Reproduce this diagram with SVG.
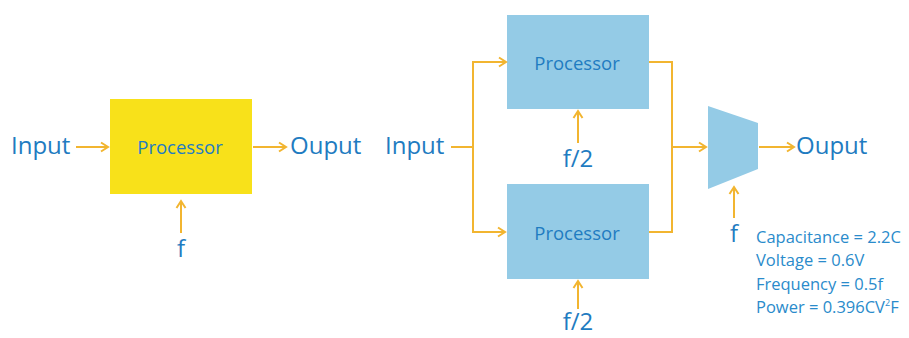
<svg xmlns="http://www.w3.org/2000/svg" width="909" height="338" viewBox="0 0 909 338">
  <style>
    .lbl { font-family: "Open Sans", "Noto Sans", sans-serif; fill: #1f7cc1; }
    .big { font-size: 24px; }
    .proc { font-size: 18.5px; text-anchor: middle; }
    .note { font-family: "Open Sans", "Noto Sans", sans-serif; font-size: 16.5px; fill: #2a8bcb; }
    .wire { fill: none; stroke: #f2b530; stroke-width: 2; }
    .arr { marker-end: url(#chev); }
    .yellow { fill: #f8e11a; }
    .blue { fill: #94cbe6; }
  </style>
  <defs>
    <marker id="chev" markerUnits="userSpaceOnUse" markerWidth="12" markerHeight="12" viewBox="0 0 12 12" refX="10" refY="6" orient="auto">
      <path d="M3,1.5 L10,6 L3,10.5" fill="none" stroke="#f2b530" stroke-width="2"/>
    </marker>
  </defs>

  <rect width="909" height="338" fill="#ffffff"/>

  <!-- single-processor system -->
  <g id="in-left"><text class="lbl big" x="11" y="154">Input</text></g>
  <g id="proc-single">
    <rect class="yellow" x="110" y="99" width="142" height="95"/>
    <text class="lbl proc" x="180" y="154">Processor</text>
  </g>
  <g id="out-left"><text class="lbl big" x="290" y="154">Ouput</text></g>
  <g id="f-left"><text class="lbl big" x="181" y="257" text-anchor="middle">f</text></g>

  <!-- dual-processor system -->
  <g id="in-right"><text class="lbl big" x="385" y="154">Input</text></g>
  <g id="proc-top">
    <rect class="blue" x="507" y="15" width="142" height="94"/>
    <text class="lbl proc" x="577" y="70">Processor</text>
  </g>
  <g id="proc-bottom">
    <rect class="blue" x="507" y="184" width="142" height="95"/>
    <text class="lbl proc" x="577" y="240">Processor</text>
  </g>
  <g id="f2-top"><text class="lbl big" x="578" y="167" text-anchor="middle">f/2</text></g>
  <g id="f2-bottom"><text class="lbl big" x="578" y="330" text-anchor="middle">f/2</text></g>
  <g id="mux">
    <polygon class="blue" points="708,106 758,123 758,169 708,189"/>
  </g>
  <g id="f-mux"><text class="lbl big" x="734" y="242" text-anchor="middle">f</text></g>
  <g id="out-right"><text class="lbl big" x="796" y="154">Ouput</text></g>
  <g id="specs">
    <text class="note" x="756" y="243">Capacitance = 2.2C</text>
    <text class="note" x="756" y="266">Voltage = 0.6V</text>
    <text class="note" x="756" y="290">Frequency = 0.5f</text>
    <text class="note" x="756" y="313">Power = 0.396CV<tspan font-size="9" dy="-7">2</tspan><tspan dy="7">F</tspan></text>
  </g>

  <!-- connectors -->
  <g id="connectors">
    <line class="wire arr" x1="76" y1="147" x2="108" y2="147"/>
    <line class="wire arr" x1="253" y1="147" x2="286" y2="147"/>
    <line class="wire arr" x1="181" y1="233" x2="181" y2="201"/>

    <line class="wire" x1="451" y1="147" x2="473" y2="147"/>
    <polyline class="wire arr" points="505,62 473,62 473,232 505,232"/>
    <polyline class="wire arr" points="473,62 506,62"/>
    <line class="wire arr" x1="578" y1="143" x2="578" y2="111"/>
    <line class="wire arr" x1="578" y1="309" x2="578" y2="281"/>

    <polyline class="wire" points="649,62 672,62 672,232 649,232"/>
    <line class="wire arr" x1="672" y1="147" x2="706" y2="147"/>
    <line class="wire arr" x1="759" y1="147" x2="794" y2="147"/>
    <line class="wire arr" x1="734" y1="218" x2="734" y2="187"/>
  </g>
</svg>
